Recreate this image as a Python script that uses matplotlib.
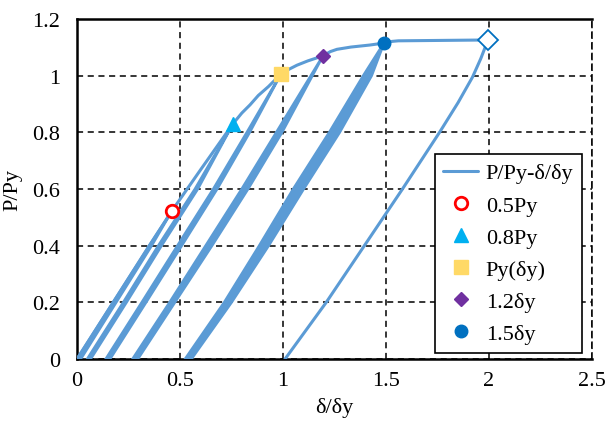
import matplotlib
matplotlib.use("Agg")
import matplotlib.pyplot as plt

plt.rcParams["font.family"] = ["Liberation Serif", "DejaVu Serif"]

# Envoltória (carregamento monotônico)
env_x = [0, 0.46, 0.6, 0.757, 0.80, 0.84, 0.88, 0.93, 0.99, 1.03, 1.068, 1.12, 1.194,
         1.23, 1.262, 1.33, 1.42, 1.49, 1.53, 1.56, 1.995]
env_y = [0, 0.522, 0.668, 0.83, 0.868, 0.897, 0.93, 0.962, 1.006, 1.023, 1.037, 1.052, 1.07,
         1.085, 1.093, 1.101, 1.108, 1.115, 1.121, 1.123, 1.126]

# Ciclos de descarga/recarga (faixas): alturas, borda esquerda e direita
band1_y = [0, 0.2, 0.4, 0.522]
band1_xl = [0.0, 0.175, 0.35, 0.46]
band1_xr = [0.018, 0.19, 0.362, 0.46]

band2_y = [0, 0.2, 0.4, 0.6, 0.83]
band2_xl = [0.05, 0.225, 0.395, 0.573, 0.757]
band2_xr = [0.066, 0.24, 0.41, 0.586, 0.757]

band3_y = [0, 0.2, 0.4, 0.6, 0.8, 1.006]
band3_xl = [0.14, 0.315, 0.488, 0.662, 0.825, 0.99]
band3_xr = [0.16, 0.335, 0.508, 0.68, 0.838, 0.99]

band4_y = [0, 0.2, 0.4, 0.6, 0.8, 1.07]
band4_xl = [0.27, 0.45, 0.625, 0.8, 0.968, 1.194]
band4_xr = [0.295, 0.475, 0.655, 0.83, 0.995, 1.194]

band5_y = [0, 0.2, 0.4, 0.6, 0.8, 1.0, 1.115]
band5_xl = [0.525, 0.715, 0.885, 1.05, 1.225, 1.39, 1.49]
band5_xr = [0.555, 0.75, 0.93, 1.1, 1.275, 1.43, 1.49]

# Descarga final a partir de 2δy
unload_x = [1.01, 1.1, 1.21, 1.395, 1.58, 1.76, 1.85, 1.92, 1.96, 1.995]
unload_y = [0, 0.09, 0.2, 0.4, 0.6, 0.8, 0.905, 0.995, 1.06, 1.126]

# Pontos característicos
pt_labels = ["0.5Py", "0.8Py", "Py(δy)", "1.2δy", "1.5δy"]
pt_x = [0.463, 0.757, 0.99, 1.194, 1.49]
pt_y = [0.522, 0.83, 1.006, 1.07, 1.115]
end_x = [1.995]
end_y = [1.126]

line_color = "#5B9BD5"

fig = plt.figure(figsize=(6.08, 4.27), dpi=100)
ax = fig.add_axes([77 / 608, 67 / 427, 515 / 608, 340 / 427])

# Faixas dos ciclos (laços preenchidos)
bands = [
    (band1_xl, band1_xr, band1_y),
    (band2_xl, band2_xr, band2_y),
    (band3_xl, band3_xr, band3_y),
    (band4_xl, band4_xr, band4_y),
    (band5_xl, band5_xr, band5_y),
]
for xl, xr, ys in bands:
    xs = list(xl) + list(xr)[::-1]
    yy = list(ys) + list(ys)[::-1]
    ax.fill(xs, yy, facecolor=line_color, edgecolor=line_color, lw=2, zorder=3)

main_line, = ax.plot(env_x, env_y, color=line_color, lw=2.2, zorder=3,
                     solid_capstyle="round", solid_joinstyle="round", label="P/Py-δ/δy")
ax.plot(unload_x, unload_y, color=line_color, lw=2.2, zorder=3, solid_joinstyle="round")

# Marcadores
marker_styles = [
    dict(marker="o", markersize=9, markerfacecolor="white", markeredgecolor="#FF0000", markeredgewidth=2),
    dict(marker="^", markersize=10, markerfacecolor="#00B0F0", markeredgecolor="#00B0F0"),
    dict(marker="s", markersize=10, markerfacecolor="#FFD966", markeredgecolor="#FFD966"),
    dict(marker="D", markersize=7, markerfacecolor="#7030A0", markeredgecolor="#7030A0"),
    dict(marker="o", markersize=9, markerfacecolor="#0070C0", markeredgecolor="#0070C0"),
]
handles = [main_line]
for lab, x, y, st in zip(pt_labels, pt_x, pt_y, marker_styles):
    h, = ax.plot([x], [y], linestyle="none", zorder=5, label=lab, **st)
    handles.append(h)
ax.plot(end_x, end_y, linestyle="none", marker="D", markersize=10,
        markerfacecolor="white", markeredgecolor="#0070C0", markeredgewidth=1.3, zorder=5)

# Eixos
ax.set_xlim(0, 2.5)
ax.set_ylim(0, 1.2)
ax.set_xticks([0, 0.5, 1, 1.5, 2, 2.5])
ax.set_xticklabels(["0", "0.5", "1", "1.5", "2", "2.5"])
ax.set_yticks([0, 0.2, 0.4, 0.6, 0.8, 1.0, 1.2])
ax.set_yticklabels(["0", "0.2", "0.4", "0.6", "0.8", "1", "1.2"])
ax.tick_params(length=0, labelsize=16, pad=9)
ax.tick_params(axis="y", pad=12)
ax.set_xlabel("δ/δy", fontsize=16, labelpad=5)
ax.set_ylabel("P/Py", fontsize=16, labelpad=7)

ax.grid(True, color="black", linestyle=(0, (4, 3)), lw=1.1)
ax.set_axisbelow(True)
for side in ["left", "bottom", "top"]:
    ax.spines[side].set_linewidth(1.8)
ax.spines["right"].set_linestyle((0, (4, 3)))
ax.spines["right"].set_linewidth(1.1)

leg = ax.legend(handles=handles, loc="lower right", bbox_to_anchor=(0.981, 0.018),
                borderaxespad=0, fontsize=16, fancybox=False, framealpha=1,
                edgecolor="black", handlelength=1.55, handletextpad=0.35,
                labelspacing=0.52, borderpad=0.4)
leg.get_frame().set_linewidth(1.2)

fig.savefig("out.png", dpi=100)
